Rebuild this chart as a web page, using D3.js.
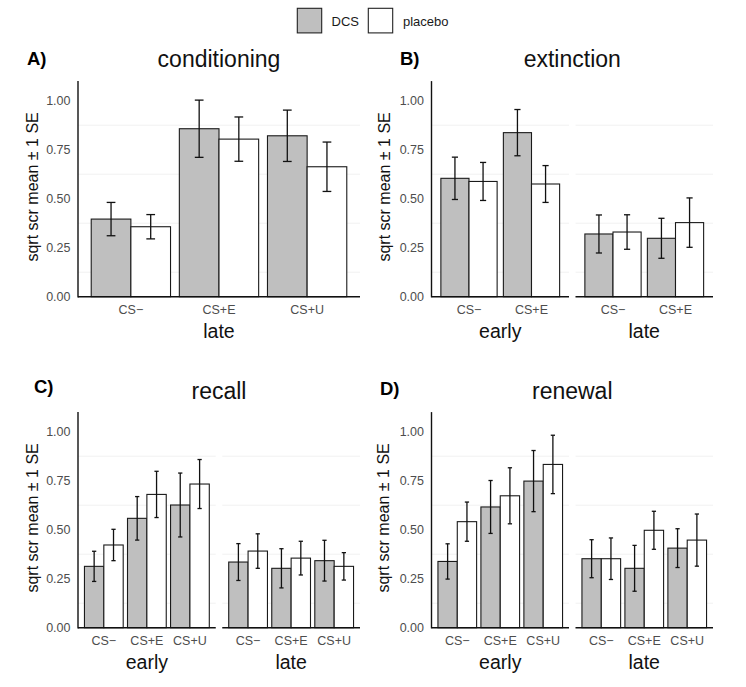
<!DOCTYPE html>
<html>
<head>
<meta charset="utf-8">
<script src="https://cdn.jsdelivr.net/npm/d3@7"></script>
<style>
  body { margin: 0; background: #fff; }
  svg { font-family: "Liberation Sans", Arial, Helvetica, sans-serif; }
</style>
</head>
<body>
<div id="chart"></div>
<script>
// groups and cues
const groups = ["DCS", "placebo"];
const cues3 = ["CS\u2212", "CS+E", "CS+U"];
const cues2 = ["CS\u2212", "CS+E"];
const yTicks = [0, 0.25, 0.5, 0.75, 1.0];
const yMinor = [0.125, 0.375, 0.625, 0.875];

// A) conditioning - late
const condLateDCS = [0.396, 0.857, 0.821];
const condLateDCSSe = [0.085, 0.146, 0.131];
const condLatePlacebo = [0.357, 0.804, 0.663];
const condLatePlaceboSe = [0.062, 0.113, 0.126];

// B) extinction - early / late
const extEarlyDCS = [0.604, 0.837];
const extEarlyDCSSe = [0.108, 0.118];
const extEarlyPlacebo = [0.588, 0.575];
const extEarlyPlaceboSe = [0.097, 0.094];
const extLateDCS = [0.320, 0.298];
const extLateDCSSe = [0.097, 0.102];
const extLatePlacebo = [0.330, 0.378];
const extLatePlaceboSe = [0.088, 0.126];

// C) recall - early / late
const recEarlyDCS = [0.313, 0.558, 0.626];
const recEarlyDCSSe = [0.077, 0.111, 0.163];
const recEarlyPlacebo = [0.422, 0.680, 0.733];
const recEarlyPlaceboSe = [0.080, 0.118, 0.125];
const recLateDCS = [0.335, 0.303, 0.342];
const recLateDCSSe = [0.094, 0.100, 0.104];
const recLatePlacebo = [0.391, 0.355, 0.313];
const recLatePlaceboSe = [0.088, 0.086, 0.070];

// D) renewal - early / late
const renEarlyDCS = [0.338, 0.616, 0.748];
const renEarlyDCSSe = [0.090, 0.135, 0.156];
const renEarlyPlacebo = [0.541, 0.673, 0.833];
const renEarlyPlaceboSe = [0.100, 0.143, 0.149];
const renLateDCS = [0.352, 0.303, 0.406];
const renLateDCSSe = [0.097, 0.117, 0.099];
const renLatePlacebo = [0.352, 0.497, 0.447];
const renLatePlaceboSe = [0.106, 0.097, 0.133];

const fillColor = {DCS: "#bfbfbf", placebo: "#ffffff"};

// build rows for one facet
function rows(cues, dcs, dcsSe, pla, plaSe) {
  const out = [];
  cues.forEach((c, i) => {
    out.push({cue: c, group: "DCS", mean: dcs[i], se: dcsSe[i]});
    out.push({cue: c, group: "placebo", mean: pla[i], se: plaSe[i]});
  });
  return out;
}

const panels = [
  {tag: "A)", tagX: 27, tagY: 65, title: "conditioning", titleY: 67, x0: 78, x1: 360, zero: 296.7, ylabX: 32,
   facets: [{label: "late", cues: cues3, data: rows(cues3, condLateDCS, condLateDCSSe, condLatePlacebo, condLatePlaceboSe)}]},
  {tag: "B)", tagX: 400, tagY: 65, title: "extinction", titleY: 67, x0: 431.5, x1: 713, zero: 296.7, ylabX: 384.5,
   facets: [{label: "early", cues: cues2, data: rows(cues2, extEarlyDCS, extEarlyDCSSe, extEarlyPlacebo, extEarlyPlaceboSe)},
            {label: "late", cues: cues2, data: rows(cues2, extLateDCS, extLateDCSSe, extLatePlacebo, extLatePlaceboSe)}]},
  {tag: "C)", tagX: 34, tagY: 393, title: "recall", titleY: 398.5, x0: 78, x1: 360, zero: 627.7, ylabX: 32.5,
   facets: [{label: "early", cues: cues3, data: rows(cues3, recEarlyDCS, recEarlyDCSSe, recEarlyPlacebo, recEarlyPlaceboSe)},
            {label: "late", cues: cues3, data: rows(cues3, recLateDCS, recLateDCSSe, recLatePlacebo, recLatePlaceboSe)}]},
  {tag: "D)", tagX: 380, tagY: 395, title: "renewal", titleY: 399, x0: 431.5, x1: 713, zero: 627.7, ylabX: 383.5,
   facets: [{label: "early", cues: cues3, data: rows(cues3, renEarlyDCS, renEarlyDCSSe, renEarlyPlacebo, renEarlyPlaceboSe)},
            {label: "late", cues: cues3, data: rows(cues3, renLateDCS, renLateDCSSe, renLatePlacebo, renLatePlaceboSe)}]}
];

const width = 746, height = 687;
const unit = 196;      // px per 1.0 on the y axis
const facetGap = 6.5;

const svg = d3.select("#chart").append("svg")
    .attr("width", width)
    .attr("height", height);

// legend
const legend = svg.append("g");
const legendPos = [{x: 297.3, tx: 331.5}, {x: 368.3, tx: 403}];
groups.forEach((g, i) => {
  legend.append("rect")
      .attr("x", legendPos[i].x).attr("y", 8.3)
      .attr("width", 24.4).attr("height", 24.6)
      .attr("fill", fillColor[g])
      .attr("stroke", "#222").attr("stroke-width", 1.1);
  legend.append("text")
      .attr("x", legendPos[i].tx).attr("y", 25.5)
      .attr("font-size", 13).attr("fill", "#1a1a1a")
      .text(g);
});

panels.forEach(p => {
  const g = svg.append("g");
  const y = d3.scaleLinear().domain([0, 1.1]).range([p.zero, p.zero - 1.1 * unit]);

  // tag and title
  g.append("text").attr("x", p.tagX).attr("y", p.tagY)
      .attr("font-size", 18.5).attr("font-weight", "bold").text(p.tag);
  g.append("text").attr("x", (p.x0 + p.x1) / 2).attr("y", p.titleY)
      .attr("text-anchor", "middle").attr("font-size", 23).attr("fill", "#111").text(p.title);

  // y axis label
  g.append("text")
      .attr("transform", `translate(${p.ylabX},${(y(0) + y(1.1)) / 2 - 2}) rotate(-90)`)
      .attr("dy", "0.35em").attr("text-anchor", "middle")
      .attr("font-size", 16).attr("fill", "#111")
      .text("sqrt scr mean \u00b1 1 SE");

  // y tick labels
  g.selectAll(".ytick").data(yTicks).join("text")
      .attr("x", p.x0 - 7.5).attr("y", d => y(d)).attr("dy", "0.35em")
      .attr("text-anchor", "end").attr("font-size", 12.5).attr("fill", "#4d4d4d")
      .text(d => d3.format(".2f")(d));

  const n = p.facets.length;
  const fw = (p.x1 - p.x0 - facetGap * (n - 1)) / n;

  p.facets.forEach((f, fi) => {
    const fx0 = p.x0 + fi * (fw + facetGap);
    const fx1 = fx0 + fw;
    const x = d3.scaleBand().domain(f.cues).range([fx0, fx1]).paddingInner(0).paddingOuter(0.1);
    const xg = d3.scaleBand().domain(groups).range([0, x.bandwidth() * 0.9]);
    const off = x.bandwidth() * 0.05;
    const fg = g.append("g");

    // faint gridlines
    fg.selectAll(".grid").data(yMinor).join("line")
        .attr("x1", fx0).attr("x2", fx1)
        .attr("y1", d => y(d)).attr("y2", d => y(d))
        .attr("stroke", "#ebebeb").attr("stroke-width", 0.7);

    // bars
    fg.selectAll(".bar").data(f.data).join("rect")
        .attr("x", d => x(d.cue) + off + xg(d.group))
        .attr("y", d => y(d.mean))
        .attr("width", xg.bandwidth())
        .attr("height", d => y(0) - y(d.mean))
        .attr("fill", d => fillColor[d.group])
        .attr("stroke", "#1a1a1a").attr("stroke-width", 1.1);

    // error bars
    const cap = xg.bandwidth() * 0.11;
    const eb = fg.selectAll(".err").data(f.data).join("g")
        .attr("transform", d => `translate(${x(d.cue) + off + xg(d.group) + xg.bandwidth() / 2},0)`)
        .attr("stroke", "#111").attr("stroke-width", 1.3);
    eb.append("line").attr("x1", 0).attr("x2", 0)
        .attr("y1", d => y(d.mean + d.se)).attr("y2", d => y(d.mean - d.se));
    eb.append("line").attr("x1", -cap).attr("x2", cap)
        .attr("y1", d => y(d.mean + d.se)).attr("y2", d => y(d.mean + d.se));
    eb.append("line").attr("x1", -cap).attr("x2", cap)
        .attr("y1", d => y(d.mean - d.se)).attr("y2", d => y(d.mean - d.se));

    // x axis line
    fg.append("line").attr("x1", fx0).attr("x2", fx1)
        .attr("y1", y(0)).attr("y2", y(0))
        .attr("stroke", "#111").attr("stroke-width", 1.4);

    // x tick labels
    fg.selectAll(".xtick").data(f.cues).join("text")
        .attr("x", d => x(d) + x.bandwidth() / 2).attr("y", y(0) + 17)
        .attr("text-anchor", "middle").attr("font-size", 12.5).attr("fill", "#4d4d4d")
        .text(d => d);

    // facet label below
    fg.append("text").attr("x", (fx0 + fx1) / 2).attr("y", y(0) + 41)
        .attr("text-anchor", "middle").attr("font-size", 19.5).attr("fill", "#111")
        .text(f.label);
  });

  // y axis line
  g.append("line").attr("x1", p.x0).attr("x2", p.x0)
      .attr("y1", y(1.1)).attr("y2", y(0) + 0.7)
      .attr("stroke", "#111").attr("stroke-width", 1.4);
});
</script>
</body>
</html>
